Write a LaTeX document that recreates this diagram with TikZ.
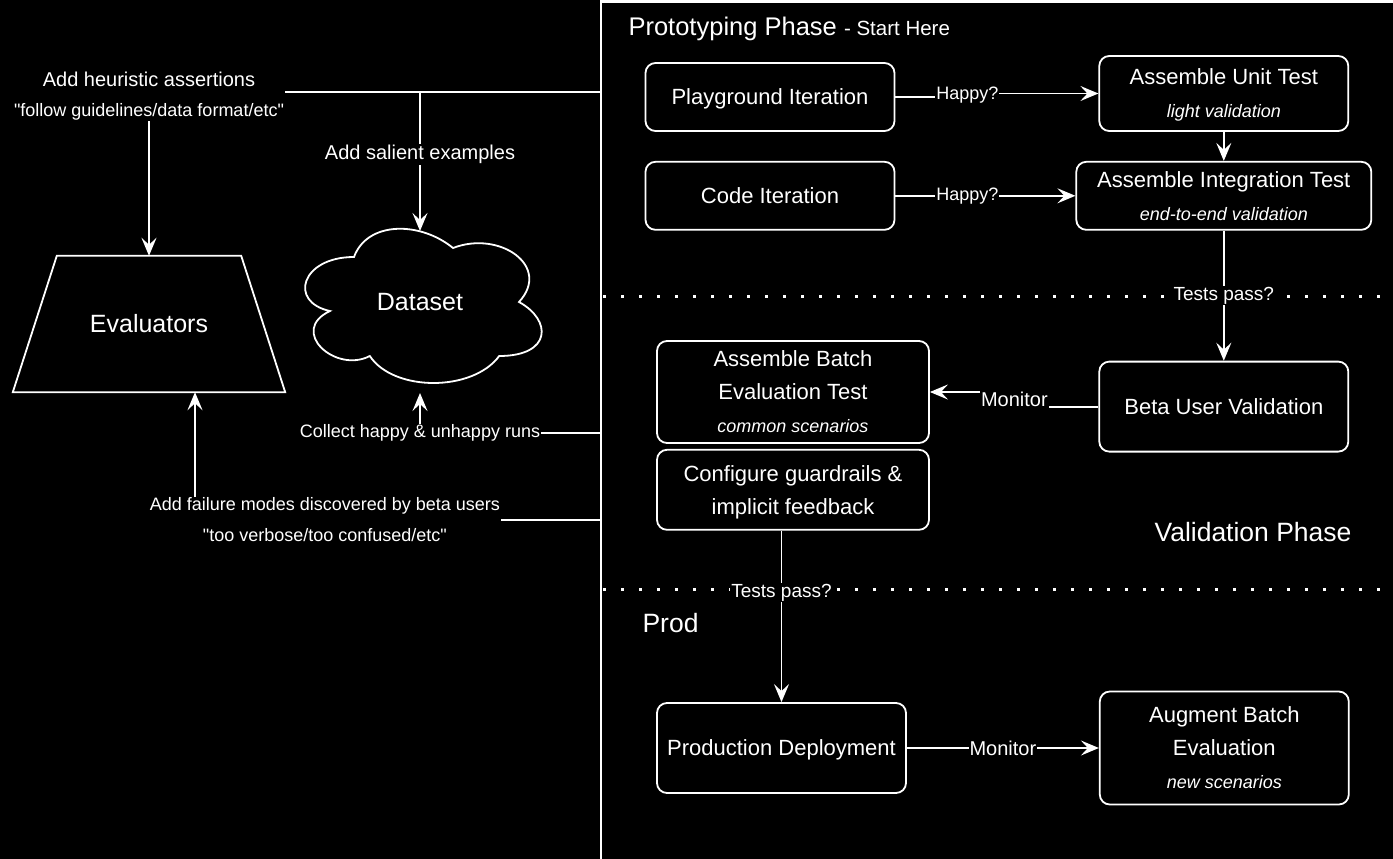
\documentclass[tikz,border=0pt]{standalone}
\usepackage{fontspec}
\setmainfont{Liberation Sans}[Ligatures=TeXOff]
\usetikzlibrary{positioning}
\usetikzlibrary{arrows.meta}

\newcommand{\subtxt}[1]{{\fontsize{18}{33}\selectfont\itshape #1}}

\begin{document}
\begin{tikzpicture}[x=1pt, y=-1pt, every node/.style={text=white},
                    box/.style={rectangle, draw=white, line width=1.8pt, rounded corners=10pt, minimum width=249pt, inner sep=2pt, text depth=0pt, align=center, font=\fontsize{22}{33}\selectfont},
                    lbl/.style={fill=black, inner sep=1pt, align=center, font=\fontsize{18}{31}\selectfont},
                    arr/.style={draw=white, line width=1.8pt, -{Stealth[length=18pt, width=15pt, inset=7pt]}},
                    dots/.style={draw=white, line width=3pt, dash pattern=on 3pt off 15pt},
                    title/.style={anchor=base west, font=\fontsize{26.5}{30}\selectfont}]
\useasboundingbox (0,0) rectangle (1393,859);
\fill[black] (0,0) rectangle (1393,859);
% phase panel and separators
\draw[white, line width=2.5pt] (601,862) -- (601,1.5) -- (1396,1.5);
\draw[dots] (603,296) -- (1393,296);
\draw[dots] (603,589) -- (1393,589);
\node (proto) [title, font=\fontsize{25.5}{30}\selectfont] at (625,36) {Prototyping Phase {\fontsize{20.5}{24}\selectfont - Start Here}};
\node (valph) [title, anchor=base east] at (1355,541) {Validation Phase};
\node (prodph) [title] at (639,632) {Prod};
% prototyping
\node (play) [box, minimum height=68pt] at (770,97) {Playground Iteration};
\node (code) [box, minimum height=68pt, below=29pt of play] {Code Iteration};
\node (unit) [box, minimum height=75pt, right=203pt of play.south east, anchor=south west] {Assemble Unit Test\\\subtxt{light validation}};
\node (integ) [box, minimum width=295pt, minimum height=68pt, below=29pt of unit] {Assemble Integration Test\\\subtxt{end-to-end validation}};
% validation
\node (beta) [box, minimum height=90pt, below=130pt of integ] {Beta User Validation};
\node (batch) [box, minimum width=272pt, minimum height=102pt] at (793,392) {Assemble Batch\\Evaluation Test\\\subtxt{common scenarios}};
\node (guard) [box, minimum width=272pt, minimum height=80pt, below=5pt of batch] {Configure guardrails \&\\implicit feedback};
% prod
\node (prod) [box, minimum height=90pt] at (781.5,748) {Production Deployment};
\node (augm) [box, minimum height=113pt, right=192pt of prod] {Augment Batch\\Evaluation\\\subtxt{new scenarios}};
% left side
\node (eval) [minimum width=272pt, minimum height=136pt, font=\fontsize{25}{30}\selectfont] at (149,324) {Evaluators};
\draw[white, line width=1.8pt] (eval.south west) -- ([xshift=44pt]eval.north west) -- ([xshift=-44pt]eval.north east) -- (eval.south east) -- cycle;
\node (data) [font=\fontsize{25}{30}\selectfont] at (420,302) {Dataset};
\draw[white, line width=1.8pt] (354,257) .. controls (301.2,257) and (288,302) .. (330,311)
      .. controls (288,330.8) and (335.5,374) .. (369.8,356)
      .. controls (393.6,392) and (472.8,392) .. (499.2,356)
      .. controls (552,356) and (552,320) .. (519,302)
      .. controls (552,266) and (499.2,230) .. (453,248)
      .. controls (420,221) and (367.2,221) .. cycle;
\coordinate (dtop) at (420,231);
\coordinate (dbot) at (420,393);
\coordinate (p1) at (601,92);
\coordinate (p2) at (601,433);
\coordinate (p3) at (601,520);
% connectors
\draw[arr] (play.east) -- ++(72,0) |- node[lbl, pos=0.25]{Happy?} (unit.west);
\draw[arr] (code) -- node[lbl, pos=0.4]{Happy?} (integ);
\draw[arr] (unit) -- (integ);
\draw[arr] (integ) -- node[lbl, font=\fontsize{19}{24}\selectfont]{Tests pass?} (beta);
\draw[arr] (beta.west) -- ++(-84,0) |- node[lbl, pos=0.25, font=\fontsize{20}{24}\selectfont]{Monitor} (batch.east);
\draw[arr] (prod.north |- guard.south) -- node[lbl, pos=0.36, font=\fontsize{19}{24}\selectfont]{Tests pass?} (prod.north);
\draw[arr] (prod) -- node[lbl, font=\fontsize{20}{24}\selectfont]{Monitor} (augm);
\draw[arr] (p1) -| node[lbl, pos=0.5, yshift=-4pt, font=\fontsize{20}{30}\selectfont]{Add heuristic assertions\\{\fontsize{18}{30}\selectfont "follow guidelines/data format/etc"}} (eval.north);
\draw[arr] (p1 -| dtop) -- node[lbl, pos=0.45, font=\fontsize{20}{24}\selectfont]{Add salient examples} (dtop);
\draw[arr] (p2) -| node[lbl, pos=0.5]{Collect happy \& unhappy runs} (dbot);
\draw[arr] (p3) -| node[lbl, pos=0.34]{Add failure modes discovered by beta users\\"too verbose/too confused/etc"} ([xshift=46pt]eval.south);
\end{tikzpicture}
\end{document}
